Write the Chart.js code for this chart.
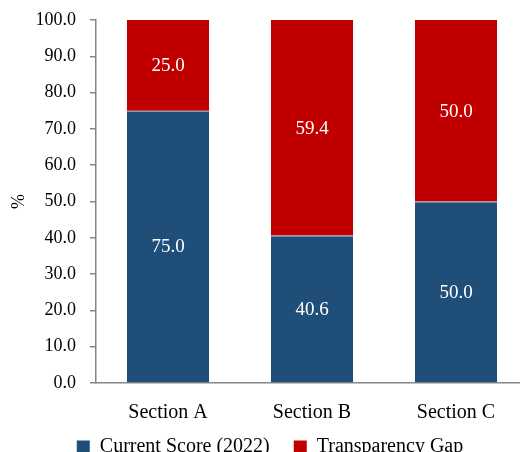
<!DOCTYPE html>
<html><head><meta charset="utf-8">
<script src="https://cdn.jsdelivr.net/npm/chart.js@4/dist/chart.umd.min.js"></script>
<style>
html,body{margin:0;padding:0;overflow:hidden;background:#fff;}
#wrap{width:528px;height:452px;position:relative;}
</style></head><body>
<div id="wrap"><canvas id="c"></canvas></div>
<script>
const categories = ['Section A', 'Section B', 'Section C'];
const currentScore = [75.0, 40.6, 50.0];
const transparencyGap = [25.0, 59.4, 50.0];
const seriesNames = ['Current Score (2022)', 'Transparency Gap'];
const yTicks = [0, 10, 20, 30, 40, 50, 60, 70, 80, 90, 100];

const FONT = "'Liberation Serif', 'Times New Roman', serif";

const barLabels = {
  id: 'barLabels',
  afterDatasetsDraw(chart) {
    const ctx = chart.ctx;
    ctx.save();
    ctx.fillStyle = '#ffffff';
    ctx.font = '19px ' + FONT;
    ctx.textAlign = 'center';
    ctx.textBaseline = 'middle';
    chart.data.datasets.forEach((ds, i) => {
      const meta = chart.getDatasetMeta(i);
      meta.data.forEach((el, j) => {
        const v = ds.data[j];
        ctx.fillText(v.toFixed(1), el.x, (el.y + el.base) / 2 + 1);
      });
    });
    ctx.restore();
  }
};

const legendTweak = {
  id: 'legendTweak',
  beforeLayout(chart) {
    const lg = chart.legend;
    if (lg && !lg._wrapped) {
      const origFit = lg.fit;
      lg.fit = function () { origFit.call(this); this.height = 29; };
      const origDraw = lg.draw;
      lg.draw = function () {
        const ctx = this.ctx;
        ctx.save();
        ctx.translate(6, -10);
        if (typeof this._draw === 'function') { this._draw(); } else { origDraw.call(this); }
        ctx.restore();
      };
      lg._wrapped = true;
    }
  }
};

new Chart(document.getElementById('c'), {
  type: 'bar',
  data: {
    labels: categories,
    datasets: [
      { label: seriesNames[0], data: currentScore, backgroundColor: '#1F4E79', borderColor: '#8aa3bd', borderWidth: {top: 1}, borderSkipped: false, categoryPercentage: 1, barPercentage: 0.57 },
      { label: seriesNames[1], data: transparencyGap, backgroundColor: '#C00000', borderWidth: 0, categoryPercentage: 1, barPercentage: 0.57 }
    ]
  },
  options: {
    responsive: true,
    maintainAspectRatio: false,
    animation: false,
    layout: { padding: { top: 20, right: 0, bottom: 0, left: 0 } },
    plugins: {
      legend: {
        position: 'bottom',
        labels: {
          boxWidth: 13, boxHeight: 13, padding: 24,
          color: '#000', font: { family: FONT, size: 20 }
        }
      },
      tooltip: { enabled: false }
    },
    scales: {
      x: {
        stacked: true,
        grid: { display: false },
        border: { display: true, color: '#868686', width: 1.5 },
        ticks: { color: '#000', font: { family: FONT, size: 20 }, padding: 10 },
        afterFit(s) { s.height = 40; s.paddingLeft = 0; s.paddingRight = 0; }
      },
      y: {
        stacked: true,
        min: 0, max: 100,
        afterBuildTicks(s) { s.ticks = yTicks.map(v => ({ value: v })); },
        grid: { drawOnChartArea: false, drawTicks: true, tickLength: 6, color: '#868686', lineWidth: 1.5 },
        border: { display: true, color: '#868686', width: 1.5 },
        ticks: { color: '#000', font: { family: FONT, size: 18 }, padding: 14, callback: v => Number(v).toFixed(1) },
        title: { display: true, text: '%', color: '#000', font: { family: FONT, size: 18 }, padding: { top: 8, bottom: 0 } },
        afterFit(s) { s.width = 96; s.paddingTop = 0; s.paddingBottom = 0; }
      }
    }
  },
  plugins: [barLabels, legendTweak]
});
</script>
</body></html>
